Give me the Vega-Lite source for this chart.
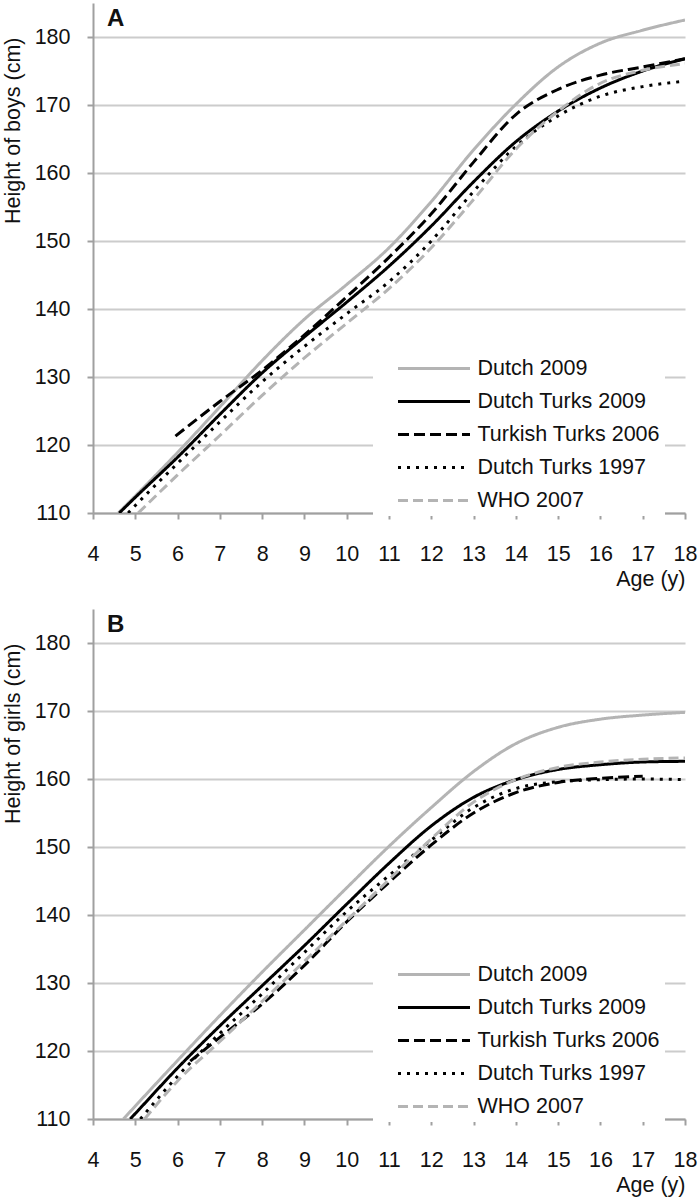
{
  "$schema": "https://vega.github.io/schema/vega-lite/v6.json",
  "padding": {"left": 2, "top": 3, "right": 5, "bottom": 5},
  "spacing": 19,
  "config": {
    "font": "Liberation Sans",
    "view": {"stroke": null},
    "axis": {
      "labelFont": "Liberation Sans", "labelFontSize": 21.5, "labelColor": "#111",
      "titleFont": "Liberation Sans", "titleFontSize": 21.5, "titleFontWeight": "normal", "titleColor": "#111",
      "domainColor": "#a0a0a0", "domainWidth": 2, "tickColor": "#a0a0a0", "tickWidth": 2, "tickSize": 6,
      "gridColor": "#cccccc", "gridWidth": 2
    },
    "legend": {
      "orient": "none", "legendX": 280, "legendY": 350,
      "fillColor": "white", "padding": 5,
      "symbolType": "stroke", "symbolSize": 5184, "symbolStrokeWidth": 3,
      "clipHeight": 21, "rowPadding": 11,
      "labelFont": "Liberation Sans", "labelFontSize": 21.5, "labelColor": "#111",
      "labelOffset": 6, "symbolOffset": 18.5, "labelLimit": 400,
      "labelExpr": "datum.label + '\u00a0\u00a0\u00a0\u00a0\u00a0\u00a0\u00a0'"
    }
  },
  "datasets": {
    "boys": [
      {"series": "Dutch 2009", "age": 4.6, "height": 110},
      {"series": "Dutch 2009", "age": 5, "height": 112.5},
      {"series": "Dutch 2009", "age": 6, "height": 118.9},
      {"series": "Dutch 2009", "age": 7, "height": 125.6},
      {"series": "Dutch 2009", "age": 8, "height": 132.4},
      {"series": "Dutch 2009", "age": 9, "height": 138.5},
      {"series": "Dutch 2009", "age": 10, "height": 143.6},
      {"series": "Dutch 2009", "age": 11, "height": 149},
      {"series": "Dutch 2009", "age": 12, "height": 155.8},
      {"series": "Dutch 2009", "age": 13, "height": 163.4},
      {"series": "Dutch 2009", "age": 14, "height": 170.1},
      {"series": "Dutch 2009", "age": 15, "height": 175.6},
      {"series": "Dutch 2009", "age": 16, "height": 179.1},
      {"series": "Dutch 2009", "age": 17, "height": 181},
      {"series": "Dutch 2009", "age": 18, "height": 182.5},
      {"series": "Dutch Turks 2009", "age": 4.62, "height": 110},
      {"series": "Dutch Turks 2009", "age": 5, "height": 112.3},
      {"series": "Dutch Turks 2009", "age": 6, "height": 118.2},
      {"series": "Dutch Turks 2009", "age": 7, "height": 124.5},
      {"series": "Dutch Turks 2009", "age": 8, "height": 130.6},
      {"series": "Dutch Turks 2009", "age": 9, "height": 135.9},
      {"series": "Dutch Turks 2009", "age": 10, "height": 141},
      {"series": "Dutch Turks 2009", "age": 11, "height": 146.3},
      {"series": "Dutch Turks 2009", "age": 12, "height": 152.2},
      {"series": "Dutch Turks 2009", "age": 13, "height": 158.7},
      {"series": "Dutch Turks 2009", "age": 14, "height": 164.6},
      {"series": "Dutch Turks 2009", "age": 15, "height": 169.1},
      {"series": "Dutch Turks 2009", "age": 16, "height": 172.5},
      {"series": "Dutch Turks 2009", "age": 17, "height": 175},
      {"series": "Dutch Turks 2009", "age": 18, "height": 176.8},
      {"series": "Turkish Turks 2006", "age": 5.95, "height": 121.3},
      {"series": "Turkish Turks 2006", "age": 7, "height": 126.4},
      {"series": "Turkish Turks 2006", "age": 8, "height": 131},
      {"series": "Turkish Turks 2006", "age": 9, "height": 136.2},
      {"series": "Turkish Turks 2006", "age": 10, "height": 141.8},
      {"series": "Turkish Turks 2006", "age": 11, "height": 147.6},
      {"series": "Turkish Turks 2006", "age": 12, "height": 154},
      {"series": "Turkish Turks 2006", "age": 13, "height": 161.6},
      {"series": "Turkish Turks 2006", "age": 14, "height": 168.6},
      {"series": "Turkish Turks 2006", "age": 15, "height": 172.3},
      {"series": "Turkish Turks 2006", "age": 16, "height": 174.4},
      {"series": "Turkish Turks 2006", "age": 17, "height": 175.6},
      {"series": "Turkish Turks 2006", "age": 18, "height": 176.8},
      {"series": "Dutch Turks 1997", "age": 4.83, "height": 110},
      {"series": "Dutch Turks 1997", "age": 5, "height": 111.1},
      {"series": "Dutch Turks 1997", "age": 6, "height": 117.3},
      {"series": "Dutch Turks 1997", "age": 7, "height": 123.4},
      {"series": "Dutch Turks 1997", "age": 8, "height": 129.3},
      {"series": "Dutch Turks 1997", "age": 9, "height": 134.5},
      {"series": "Dutch Turks 1997", "age": 10, "height": 139.3},
      {"series": "Dutch Turks 1997", "age": 11, "height": 144},
      {"series": "Dutch Turks 1997", "age": 12, "height": 150},
      {"series": "Dutch Turks 1997", "age": 13, "height": 157.3},
      {"series": "Dutch Turks 1997", "age": 14, "height": 163.9},
      {"series": "Dutch Turks 1997", "age": 15, "height": 168.4},
      {"series": "Dutch Turks 1997", "age": 16, "height": 171.3},
      {"series": "Dutch Turks 1997", "age": 17, "height": 172.7},
      {"series": "Dutch Turks 1997", "age": 18, "height": 173.5},
      {"series": "WHO 2007", "age": 5.07, "height": 110},
      {"series": "WHO 2007", "age": 6, "height": 115.6},
      {"series": "WHO 2007", "age": 7, "height": 121.4},
      {"series": "WHO 2007", "age": 8, "height": 127.3},
      {"series": "WHO 2007", "age": 9, "height": 132.8},
      {"series": "WHO 2007", "age": 10, "height": 137.9},
      {"series": "WHO 2007", "age": 11, "height": 143},
      {"series": "WHO 2007", "age": 12, "height": 149},
      {"series": "WHO 2007", "age": 13, "height": 156.1},
      {"series": "WHO 2007", "age": 14, "height": 163.5},
      {"series": "WHO 2007", "age": 15, "height": 169.1},
      {"series": "WHO 2007", "age": 16, "height": 173.2},
      {"series": "WHO 2007", "age": 17, "height": 175.1},
      {"series": "WHO 2007", "age": 18, "height": 176.1}
    ],
    "girls": [
      {"series": "Dutch 2009", "age": 4.72, "height": 110},
      {"series": "Dutch 2009", "age": 5, "height": 111.9},
      {"series": "Dutch 2009", "age": 6, "height": 118.6},
      {"series": "Dutch 2009", "age": 7, "height": 125.2},
      {"series": "Dutch 2009", "age": 8, "height": 131.6},
      {"series": "Dutch 2009", "age": 9, "height": 137.8},
      {"series": "Dutch 2009", "age": 10, "height": 144},
      {"series": "Dutch 2009", "age": 11, "height": 150.1},
      {"series": "Dutch 2009", "age": 12, "height": 155.8},
      {"series": "Dutch 2009", "age": 13, "height": 161.1},
      {"series": "Dutch 2009", "age": 14, "height": 165.2},
      {"series": "Dutch 2009", "age": 15, "height": 167.6},
      {"series": "Dutch 2009", "age": 16, "height": 168.8},
      {"series": "Dutch 2009", "age": 17, "height": 169.4},
      {"series": "Dutch 2009", "age": 18, "height": 169.8},
      {"series": "Dutch Turks 2009", "age": 4.88, "height": 110},
      {"series": "Dutch Turks 2009", "age": 5, "height": 110.8},
      {"series": "Dutch Turks 2009", "age": 6, "height": 117.5},
      {"series": "Dutch Turks 2009", "age": 7, "height": 123.7},
      {"series": "Dutch Turks 2009", "age": 8, "height": 129.6},
      {"series": "Dutch Turks 2009", "age": 9, "height": 135.5},
      {"series": "Dutch Turks 2009", "age": 10, "height": 141.6},
      {"series": "Dutch Turks 2009", "age": 11, "height": 147.6},
      {"series": "Dutch Turks 2009", "age": 12, "height": 153.1},
      {"series": "Dutch Turks 2009", "age": 13, "height": 157.3},
      {"series": "Dutch Turks 2009", "age": 14, "height": 159.9},
      {"series": "Dutch Turks 2009", "age": 15, "height": 161.4},
      {"series": "Dutch Turks 2009", "age": 16, "height": 162.1},
      {"series": "Dutch Turks 2009", "age": 17, "height": 162.5},
      {"series": "Dutch Turks 2009", "age": 18, "height": 162.6},
      {"series": "Turkish Turks 2006", "age": 6.3, "height": 118.5},
      {"series": "Turkish Turks 2006", "age": 7, "height": 122},
      {"series": "Turkish Turks 2006", "age": 8, "height": 126.9},
      {"series": "Turkish Turks 2006", "age": 9, "height": 132.6},
      {"series": "Turkish Turks 2006", "age": 10, "height": 139},
      {"series": "Turkish Turks 2006", "age": 11, "height": 144.8},
      {"series": "Turkish Turks 2006", "age": 12, "height": 150.3},
      {"series": "Turkish Turks 2006", "age": 13, "height": 155},
      {"series": "Turkish Turks 2006", "age": 14, "height": 158},
      {"series": "Turkish Turks 2006", "age": 15, "height": 159.5},
      {"series": "Turkish Turks 2006", "age": 16, "height": 160.1},
      {"series": "Turkish Turks 2006", "age": 17, "height": 160.4},
      {"series": "Dutch Turks 1997", "age": 5.12, "height": 110},
      {"series": "Dutch Turks 1997", "age": 6, "height": 116.3},
      {"series": "Dutch Turks 1997", "age": 7, "height": 122.6},
      {"series": "Dutch Turks 1997", "age": 8, "height": 128.4},
      {"series": "Dutch Turks 1997", "age": 9, "height": 134.5},
      {"series": "Dutch Turks 1997", "age": 10, "height": 140.5},
      {"series": "Dutch Turks 1997", "age": 11, "height": 145.8},
      {"series": "Dutch Turks 1997", "age": 12, "height": 151},
      {"series": "Dutch Turks 1997", "age": 13, "height": 155.8},
      {"series": "Dutch Turks 1997", "age": 14, "height": 158.6},
      {"series": "Dutch Turks 1997", "age": 15, "height": 159.6},
      {"series": "Dutch Turks 1997", "age": 16, "height": 159.9},
      {"series": "Dutch Turks 1997", "age": 17, "height": 160},
      {"series": "Dutch Turks 1997", "age": 18, "height": 159.9},
      {"series": "WHO 2007", "age": 5.22, "height": 110},
      {"series": "WHO 2007", "age": 6, "height": 115.6},
      {"series": "WHO 2007", "age": 7, "height": 121.4},
      {"series": "WHO 2007", "age": 8, "height": 127.3},
      {"series": "WHO 2007", "age": 9, "height": 133.2},
      {"series": "WHO 2007", "age": 10, "height": 139.2},
      {"series": "WHO 2007", "age": 11, "height": 145.2},
      {"series": "WHO 2007", "age": 12, "height": 151.2},
      {"series": "WHO 2007", "age": 13, "height": 156.6},
      {"series": "WHO 2007", "age": 14, "height": 159.9},
      {"series": "WHO 2007", "age": 15, "height": 161.7},
      {"series": "WHO 2007", "age": 16, "height": 162.5},
      {"series": "WHO 2007", "age": 17, "height": 162.9},
      {"series": "WHO 2007", "age": 18, "height": 163.1}
    ]
  },
  "resolve": {"legend": {"color": "independent", "strokeDash": "independent"}},
  "vconcat": [
    {
      "width": 592, "height": 510,
      "layer": [
        {
          "data": {"name": "boys"},
          "mark": {"type": "line", "interpolate": "monotone", "strokeWidth": 3, "clip": true},
          "encoding": {
            "x": {"field": "age", "type": "quantitative",
              "scale": {"domain": [4, 18], "nice": false, "zero": false},
              "axis": {"values": [4,5,6,7,8,9,10,11,12,13,14,15,16,17,18], "title": "Age (y)", "titleAnchor": "end", "titleAlign": "right", "labelPadding": 24, "titlePadding": 4, "grid": false, "labelFlush": false}},
            "y": {"field": "height", "type": "quantitative",
              "scale": {"domain": [110, 185], "nice": false, "zero": false},
              "axis": {"values": [110,120,130,140,150,160,170,180], "title": "Height of boys (cm)", "grid": true, "labelPadding": 17, "titlePadding": 10, "titleAlign": "right", "titleAnchor": "end", "titleY": 34}},
            "color": {"field": "series", "type": "nominal", "title": null,
              "scale": {"domain": ["Dutch 2009", "Dutch Turks 2009", "Turkish Turks 2006", "Dutch Turks 1997", "WHO 2007"], "range": ["#b4b4b4", "#000000", "#000000", "#000000", "#b4b4b4"]}},
            "strokeDash": {"field": "series", "type": "nominal", "title": null,
              "scale": {"domain": ["Dutch 2009", "Dutch Turks 2009", "Turkish Turks 2006", "Dutch Turks 1997", "WHO 2007"], "range": [[1, 0], [1, 0], [11, 5], [3, 6], [10, 5]]}}
          }
        },
        {
          "data": {"values": [{"label": "A"}]},
          "mark": {"type": "text", "fontSize": 24, "fontWeight": "bold", "align": "left", "baseline": "middle", "color": "#111"},
          "encoding": {"x": {"datum": 4.33}, "y": {"datum": 182.6}, "text": {"field": "label"}}
        }
      ]
    },
    {
      "width": 592, "height": 510,
      "layer": [
        {
          "data": {"name": "girls"},
          "mark": {"type": "line", "interpolate": "monotone", "strokeWidth": 3, "clip": true},
          "encoding": {
            "x": {"field": "age", "type": "quantitative",
              "scale": {"domain": [4, 18], "nice": false, "zero": false},
              "axis": {"values": [4,5,6,7,8,9,10,11,12,13,14,15,16,17,18], "title": "Age (y)", "titleAnchor": "end", "titleAlign": "right", "labelPadding": 24, "titlePadding": 4, "grid": false, "labelFlush": false}},
            "y": {"field": "height", "type": "quantitative",
              "scale": {"domain": [110, 185], "nice": false, "zero": false},
              "axis": {"values": [110,120,130,140,150,160,170,180], "title": "Height of girls (cm)", "grid": true, "labelPadding": 17, "titlePadding": 10, "titleAlign": "right", "titleAnchor": "end", "titleY": 34}},
            "color": {"field": "series", "type": "nominal", "title": null,
              "scale": {"domain": ["Dutch 2009", "Dutch Turks 2009", "Turkish Turks 2006", "Dutch Turks 1997", "WHO 2007"], "range": ["#b4b4b4", "#000000", "#000000", "#000000", "#b4b4b4"]}},
            "strokeDash": {"field": "series", "type": "nominal", "title": null,
              "scale": {"domain": ["Dutch 2009", "Dutch Turks 2009", "Turkish Turks 2006", "Dutch Turks 1997", "WHO 2007"], "range": [[1, 0], [1, 0], [11, 5], [3, 6], [10, 5]]}}
          }
        },
        {
          "data": {"values": [{"label": "B"}]},
          "mark": {"type": "text", "fontSize": 24, "fontWeight": "bold", "align": "left", "baseline": "middle", "color": "#111"},
          "encoding": {"x": {"datum": 4.33}, "y": {"datum": 182.6}, "text": {"field": "label"}}
        }
      ]
    }
  ]
}
